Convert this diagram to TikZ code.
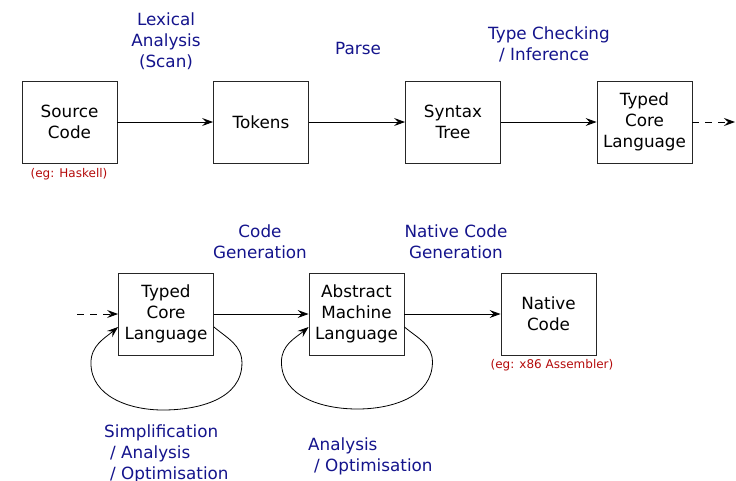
\documentclass[tikz,border=0pt]{standalone}
\usepackage{fontspec}
\setmainfont{DejaVu Sans}
\usepackage{xcolor}
\usetikzlibrary{arrows.meta, calc}

\definecolor{phaseblue}{RGB}{20,20,140}
\definecolor{notered}{RGB}{180,10,10}

\tikzset{
	stage/.style={draw=black!85, line width=0.9pt, minimum width=95pt, minimum height=82pt,
		inner sep=0pt, align=center, font=\fontsize{16.8}{21}\selectfont},
	phase/.style={text=phaseblue, inner sep=0pt, font=\fontsize{16.8}{21}\selectfont},
	note/.style={text=notered, inner sep=0pt, font=\fontsize{12}{14}\selectfont},
	flow/.style={-{Stealth[length=11pt, width=8pt, inset=4pt]}, line width=0.8pt},
	pending/.style={flow, dash pattern=on 7pt off 6pt},
}

\begin{document}
\begin{tikzpicture}[x=1pt, y=1pt]
		\useasboundingbox (0,0) rectangle (736,-480);
		
		% front end
		\node [stage] (src) at (69.5,-122) {Source\\Code};
		\node [stage] (tok) at (261,-122) {Tokens};
		\node [stage] (syn) at (453,-122) {Syntax\\Tree};
		\node [stage] (core) at (644.5,-122) {Typed\\Core\\Language};
		\coordinate (more) at (735,-122);
		
		\draw [flow] (src) -- (tok);
		\draw [flow] (tok) -- (syn);
		\draw [flow] (syn) -- (core);
		\draw [pending] (core) -- (more);
		
		\node [note] (srcnote) at (69,-174) {(eg: Haskell)};
		
		\node [phase, align=center, anchor=north] (lex) at (166,-13) {Lexical\\Analysis\\(Scan)};
		\node [phase, anchor=north] (parse) at (358,-42) {Parse};
		\node [phase, align=left, anchor=north west] (check) at (488,-27) {Type Checking\\\hspace*{11pt}/ Inference};
		
		% back end
		\coordinate (back) at (77,-314);
		\node [stage] (core2) at (166,-314) {Typed\\Core\\Language};
		\node [stage] (abs) at (356.5,-314) {Abstract\\Machine\\Language};
		\node [stage] (nat) at (548.5,-314) {Native\\Code};
		
		\draw [pending] (back) -- (core2);
		\draw [flow] (core2) -- (abs);
		\draw [flow] (abs) -- (nat);
		
		\draw [flow] ([yshift=-13pt]core2.east) to [out=-40, in=90] ++(28,-36)
			to [out=-90, in=0] ++(-79,-47) to [out=180, in=-90] ++(-72,47)
			to [out=90, in=-140] ([yshift=-13pt]core2.west);
		\draw [flow] ([yshift=-13pt]abs.east) to [out=-40, in=90] ++(28,-35)
			to [out=-90, in=0] ++(-75,-47) to [out=180, in=-90] ++(-76,47)
			to [out=90, in=-140] ([yshift=-13pt]abs.west);
		
		\node [note] (natnote) at (552,-365) {(eg: x86 Assembler)};
		
		\node [phase, align=center, anchor=north] (gen) at (260,-225) {Code\\Generation};
		\node [phase, align=center, anchor=north] (natgen) at (456,-225) {Native Code\\Generation};
		\node [phase, align=left, anchor=north west] (simp) at (104,-425) {Simplification\\\hspace*{6pt}/ Analysis\\\hspace*{6pt}/ Optimisation};
		\node [phase, align=left, anchor=north west] (opt) at (308,-438) {Analysis\\\hspace*{6pt}/ Optimisation};
\end{tikzpicture}
\end{document}
